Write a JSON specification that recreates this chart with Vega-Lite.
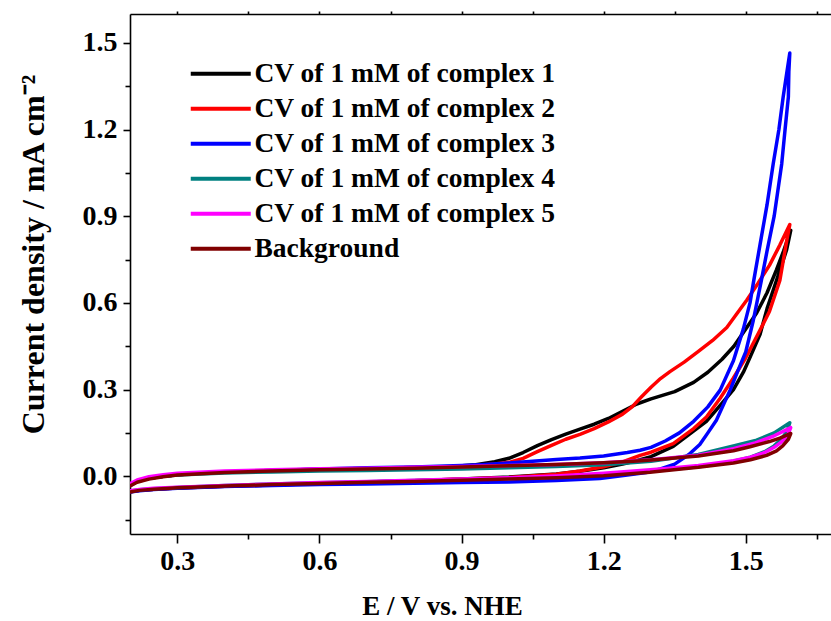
{
  "$schema": "https://vega.github.io/schema/vega-lite/v6.json",
  "width": 701,
  "height": 520,
  "autosize": {"type": "none"},
  "padding": {"left": 130, "top": 14, "right": 0, "bottom": 87},
  "background": "white",
  "config": {
    "view": {"stroke": null},
    "font": "Liberation Serif",
    "axis": {
      "grid": false,
      "domainColor": "black",
      "domainWidth": 1.6,
      "tickColor": "black",
      "tickWidth": 1.6,
      "labelFont": "Liberation Serif",
      "labelFontSize": 28,
      "labelFontWeight": "bold",
      "labelColor": "black",
      "titleFont": "Liberation Serif",
      "titleFontSize": 27,
      "titleFontWeight": "bold",
      "titleColor": "black"
    },
    "legend": {
      "orient": "none",
      "legendX": 77,
      "legendY": 46,
      "padding": 0,
      "title": null,
      "symbolType": "M-3,0H3",
      "symbolSize": 400,
      "symbolStrokeWidth": 4,
      "labelFont": "Liberation Serif",
      "labelFontSize": 27.5,
      "labelFontWeight": "bold",
      "labelColor": "black",
      "labelOffset": 20,
      "rowPadding": 6,
      "labelLimit": 0
    }
  },
  "datasets": {
    "c1": [
      {"i":0,"E":0.200,"j":-0.032},{"i":1,"E":0.215,"j":-0.018},{"i":2,"E":0.24,"j":-0.007},{"i":3,"E":0.27,"j":0.000},
      {"i":4,"E":0.30,"j":0.005},{"i":5,"E":0.35,"j":0.011},{"i":6,"E":0.40,"j":0.015},{"i":7,"E":0.50,"j":0.020},
      {"i":8,"E":0.60,"j":0.024},{"i":9,"E":0.70,"j":0.027},{"i":10,"E":0.80,"j":0.030},{"i":11,"E":0.88,"j":0.034},
      {"i":12,"E":0.93,"j":0.040},{"i":13,"E":0.97,"j":0.050},{"i":14,"E":1.00,"j":0.062},{"i":15,"E":1.03,"j":0.082},
      {"i":16,"E":1.06,"j":0.106},{"i":17,"E":1.09,"j":0.127},{"i":18,"E":1.12,"j":0.146},{"i":19,"E":1.15,"j":0.163},
      {"i":20,"E":1.18,"j":0.180},{"i":21,"E":1.21,"j":0.200},{"i":22,"E":1.24,"j":0.225},{"i":23,"E":1.27,"j":0.250},
      {"i":24,"E":1.30,"j":0.268},{"i":25,"E":1.35,"j":0.293},{"i":26,"E":1.39,"j":0.325},{"i":27,"E":1.42,"j":0.360},
      {"i":28,"E":1.45,"j":0.405},{"i":29,"E":1.475,"j":0.450},{"i":30,"E":1.50,"j":0.510},{"i":31,"E":1.523,"j":0.565},
      {"i":32,"E":1.545,"j":0.635},{"i":33,"E":1.565,"j":0.715},{"i":34,"E":1.58,"j":0.780},{"i":35,"E":1.595,"j":0.851},
      {"i":36,"E":1.586,"j":0.782},{"i":37,"E":1.565,"j":0.678},{"i":38,"E":1.545,"j":0.580},{"i":39,"E":1.53,"j":0.490},
      {"i":40,"E":1.51,"j":0.415},{"i":41,"E":1.495,"j":0.360},{"i":42,"E":1.474,"j":0.300},{"i":43,"E":1.446,"j":0.245},
      {"i":44,"E":1.417,"j":0.190},{"i":45,"E":1.389,"j":0.155},{"i":46,"E":1.347,"j":0.103},{"i":47,"E":1.30,"j":0.068},
      {"i":48,"E":1.277,"j":0.057},{"i":49,"E":1.24,"j":0.042},{"i":50,"E":1.20,"j":0.029},{"i":51,"E":1.15,"j":0.017},
      {"i":52,"E":1.10,"j":0.008},{"i":53,"E":1.00,"j":-0.003},{"i":54,"E":0.90,"j":-0.010},{"i":55,"E":0.80,"j":-0.016},
      {"i":56,"E":0.70,"j":-0.020},{"i":57,"E":0.60,"j":-0.025},{"i":58,"E":0.50,"j":-0.030},{"i":59,"E":0.40,"j":-0.035},
      {"i":60,"E":0.30,"j":-0.041},{"i":61,"E":0.25,"j":-0.045},{"i":62,"E":0.22,"j":-0.049},{"i":63,"E":0.20,"j":-0.054}
    ],
    "c2": [
      {"i":0,"E":0.200,"j":-0.032},{"i":1,"E":0.215,"j":-0.018},{"i":2,"E":0.24,"j":-0.007},{"i":3,"E":0.27,"j":0.000},
      {"i":4,"E":0.30,"j":0.005},{"i":5,"E":0.35,"j":0.011},{"i":6,"E":0.40,"j":0.015},{"i":7,"E":0.50,"j":0.020},
      {"i":8,"E":0.60,"j":0.024},{"i":9,"E":0.70,"j":0.027},{"i":10,"E":0.80,"j":0.030},{"i":11,"E":0.90,"j":0.034},
      {"i":12,"E":0.93,"j":0.037},{"i":13,"E":0.97,"j":0.042},{"i":14,"E":1.00,"j":0.048},{"i":15,"E":1.03,"j":0.062},
      {"i":16,"E":1.06,"j":0.085},{"i":17,"E":1.09,"j":0.107},{"i":18,"E":1.12,"j":0.128},{"i":19,"E":1.15,"j":0.145},
      {"i":20,"E":1.18,"j":0.165},{"i":21,"E":1.21,"j":0.188},{"i":22,"E":1.24,"j":0.215},{"i":23,"E":1.26,"j":0.240},
      {"i":24,"E":1.28,"j":0.275},{"i":25,"E":1.30,"j":0.308},{"i":26,"E":1.32,"j":0.338},{"i":27,"E":1.34,"j":0.362},
      {"i":28,"E":1.37,"j":0.395},{"i":29,"E":1.40,"j":0.432},{"i":30,"E":1.43,"j":0.470},{"i":31,"E":1.46,"j":0.515},
      {"i":32,"E":1.48,"j":0.560},{"i":33,"E":1.502,"j":0.609},{"i":34,"E":1.526,"j":0.668},{"i":35,"E":1.55,"j":0.730},
      {"i":36,"E":1.572,"j":0.800},{"i":37,"E":1.593,"j":0.871},{"i":38,"E":1.587,"j":0.820},{"i":39,"E":1.583,"j":0.782},
      {"i":40,"E":1.572,"j":0.678},{"i":41,"E":1.55,"j":0.570},{"i":42,"E":1.53,"j":0.505},{"i":43,"E":1.50,"j":0.410},
      {"i":44,"E":1.474,"j":0.340},{"i":45,"E":1.446,"j":0.270},{"i":46,"E":1.417,"j":0.205},{"i":47,"E":1.39,"j":0.165},
      {"i":48,"E":1.347,"j":0.113},{"i":49,"E":1.30,"j":0.083},{"i":50,"E":1.277,"j":0.072},{"i":51,"E":1.24,"j":0.050},
      {"i":52,"E":1.20,"j":0.033},{"i":53,"E":1.15,"j":0.018},{"i":54,"E":1.10,"j":0.007},{"i":55,"E":1.00,"j":-0.004},
      {"i":56,"E":0.90,"j":-0.010},{"i":57,"E":0.80,"j":-0.016},{"i":58,"E":0.70,"j":-0.020},{"i":59,"E":0.60,"j":-0.025},
      {"i":60,"E":0.50,"j":-0.030},{"i":61,"E":0.40,"j":-0.035},{"i":62,"E":0.30,"j":-0.041},{"i":63,"E":0.25,"j":-0.045},
      {"i":64,"E":0.22,"j":-0.049},{"i":65,"E":0.20,"j":-0.054}
    ],
    "c3": [
      {"i":0,"E":0.200,"j":-0.032},{"i":1,"E":0.215,"j":-0.018},{"i":2,"E":0.24,"j":-0.007},{"i":3,"E":0.27,"j":0.000},
      {"i":4,"E":0.30,"j":0.005},{"i":5,"E":0.35,"j":0.011},{"i":6,"E":0.40,"j":0.015},{"i":7,"E":0.50,"j":0.020},
      {"i":8,"E":0.60,"j":0.025},{"i":9,"E":0.70,"j":0.029},{"i":10,"E":0.80,"j":0.032},{"i":11,"E":0.90,"j":0.037},
      {"i":12,"E":0.95,"j":0.041},{"i":13,"E":1.00,"j":0.046},{"i":14,"E":1.05,"j":0.052},{"i":15,"E":1.10,"j":0.058},
      {"i":16,"E":1.15,"j":0.063},{"i":17,"E":1.20,"j":0.070},{"i":18,"E":1.25,"j":0.082},{"i":19,"E":1.277,"j":0.090},
      {"i":20,"E":1.30,"j":0.100},{"i":21,"E":1.33,"j":0.122},{"i":22,"E":1.36,"j":0.150},{"i":23,"E":1.39,"j":0.190},
      {"i":24,"E":1.42,"j":0.240},{"i":25,"E":1.446,"j":0.298},{"i":26,"E":1.474,"j":0.400},{"i":27,"E":1.495,"j":0.510},
      {"i":28,"E":1.509,"j":0.600},{"i":29,"E":1.517,"j":0.678},{"i":30,"E":1.53,"j":0.800},{"i":31,"E":1.545,"j":0.940},
      {"i":32,"E":1.558,"j":1.082},{"i":33,"E":1.57,"j":1.200},{"i":34,"E":1.579,"j":1.313},{"i":35,"E":1.587,"j":1.400},
      {"i":36,"E":1.593,"j":1.465},{"i":37,"E":1.591,"j":1.400},{"i":38,"E":1.59,"j":1.313},{"i":39,"E":1.583,"j":1.200},
      {"i":40,"E":1.576,"j":1.082},{"i":41,"E":1.56,"j":0.900},{"i":42,"E":1.545,"j":0.780},{"i":43,"E":1.533,"j":0.678},
      {"i":44,"E":1.516,"j":0.540},{"i":45,"E":1.50,"j":0.430},{"i":46,"E":1.484,"j":0.367},{"i":47,"E":1.467,"j":0.298},
      {"i":48,"E":1.438,"j":0.194},{"i":49,"E":1.42,"j":0.150},{"i":50,"E":1.403,"j":0.110},{"i":51,"E":1.38,"j":0.075},
      {"i":52,"E":1.35,"j":0.042},{"i":53,"E":1.32,"j":0.025},{"i":54,"E":1.29,"j":0.013},{"i":55,"E":1.25,"j":0.004},
      {"i":56,"E":1.192,"j":-0.008},{"i":57,"E":1.10,"j":-0.015},{"i":58,"E":1.00,"j":-0.020},{"i":59,"E":0.90,"j":-0.022},
      {"i":60,"E":0.80,"j":-0.024},{"i":61,"E":0.70,"j":-0.027},{"i":62,"E":0.60,"j":-0.029},{"i":63,"E":0.50,"j":-0.032},
      {"i":64,"E":0.40,"j":-0.036},{"i":65,"E":0.30,"j":-0.042},{"i":66,"E":0.25,"j":-0.046},{"i":67,"E":0.22,"j":-0.050},
      {"i":68,"E":0.20,"j":-0.055}
    ],
    "c4": [
      {"i":0,"E":0.200,"j":-0.028},{"i":1,"E":0.215,"j":-0.016},{"i":2,"E":0.24,"j":-0.006},{"i":3,"E":0.27,"j":0.000},
      {"i":4,"E":0.30,"j":0.004},{"i":5,"E":0.40,"j":0.011},{"i":6,"E":0.50,"j":0.015},{"i":7,"E":0.60,"j":0.018},
      {"i":8,"E":0.70,"j":0.020},{"i":9,"E":0.80,"j":0.022},{"i":10,"E":0.90,"j":0.025},{"i":11,"E":1.00,"j":0.029},
      {"i":12,"E":1.10,"j":0.034},{"i":13,"E":1.20,"j":0.040},{"i":14,"E":1.30,"j":0.052},{"i":15,"E":1.40,"j":0.075},
      {"i":16,"E":1.474,"j":0.105},{"i":17,"E":1.523,"j":0.125},{"i":18,"E":1.56,"j":0.150},{"i":19,"E":1.593,"j":0.185},
      {"i":20,"E":1.587,"j":0.155},{"i":21,"E":1.575,"j":0.128},{"i":22,"E":1.56,"j":0.105},{"i":23,"E":1.54,"j":0.085},
      {"i":24,"E":1.51,"j":0.066},{"i":25,"E":1.474,"j":0.052},{"i":26,"E":1.43,"j":0.040},{"i":27,"E":1.40,"j":0.033},
      {"i":28,"E":1.333,"j":0.022},{"i":29,"E":1.25,"j":0.012},{"i":30,"E":1.20,"j":0.006},{"i":31,"E":1.10,"j":-0.001},
      {"i":32,"E":1.00,"j":-0.007},{"i":33,"E":0.90,"j":-0.011},{"i":34,"E":0.80,"j":-0.015},{"i":35,"E":0.70,"j":-0.019},
      {"i":36,"E":0.60,"j":-0.023},{"i":37,"E":0.50,"j":-0.027},{"i":38,"E":0.40,"j":-0.032},{"i":39,"E":0.30,"j":-0.039},
      {"i":40,"E":0.25,"j":-0.043},{"i":41,"E":0.22,"j":-0.047},{"i":42,"E":0.20,"j":-0.051}
    ],
    "c5": [
      {"i":0,"E":0.200,"j":-0.026},{"i":1,"E":0.215,"j":-0.013},{"i":2,"E":0.24,"j":-0.002},{"i":3,"E":0.27,"j":0.005},
      {"i":4,"E":0.30,"j":0.010},{"i":5,"E":0.40,"j":0.018},{"i":6,"E":0.50,"j":0.022},{"i":7,"E":0.60,"j":0.026},
      {"i":8,"E":0.70,"j":0.028},{"i":9,"E":0.80,"j":0.031},{"i":10,"E":0.90,"j":0.034},{"i":11,"E":1.00,"j":0.037},
      {"i":12,"E":1.10,"j":0.041},{"i":13,"E":1.20,"j":0.047},{"i":14,"E":1.30,"j":0.057},{"i":15,"E":1.40,"j":0.073},
      {"i":16,"E":1.474,"j":0.095},{"i":17,"E":1.52,"j":0.115},{"i":18,"E":1.56,"j":0.140},{"i":19,"E":1.595,"j":0.168},
      {"i":20,"E":1.588,"j":0.140},{"i":21,"E":1.575,"j":0.118},{"i":22,"E":1.56,"j":0.100},{"i":23,"E":1.54,"j":0.082},
      {"i":24,"E":1.51,"j":0.066},{"i":25,"E":1.474,"j":0.054},{"i":26,"E":1.40,"j":0.037},{"i":27,"E":1.333,"j":0.027},
      {"i":28,"E":1.25,"j":0.016},{"i":29,"E":1.20,"j":0.010},{"i":30,"E":1.10,"j":0.001},{"i":31,"E":1.00,"j":-0.005},
      {"i":32,"E":0.90,"j":-0.010},{"i":33,"E":0.80,"j":-0.014},{"i":34,"E":0.70,"j":-0.018},{"i":35,"E":0.60,"j":-0.022},
      {"i":36,"E":0.50,"j":-0.027},{"i":37,"E":0.40,"j":-0.032},{"i":38,"E":0.30,"j":-0.038},{"i":39,"E":0.25,"j":-0.042},
      {"i":40,"E":0.22,"j":-0.046},{"i":41,"E":0.20,"j":-0.050}
    ],
    "bg": [
      {"i":0,"E":0.200,"j":-0.034},{"i":1,"E":0.215,"j":-0.021},{"i":2,"E":0.24,"j":-0.010},{"i":3,"E":0.27,"j":-0.002},
      {"i":4,"E":0.30,"j":0.004},{"i":5,"E":0.40,"j":0.013},{"i":6,"E":0.50,"j":0.018},{"i":7,"E":0.60,"j":0.022},
      {"i":8,"E":0.70,"j":0.025},{"i":9,"E":0.80,"j":0.028},{"i":10,"E":0.90,"j":0.032},{"i":11,"E":1.00,"j":0.036},
      {"i":12,"E":1.10,"j":0.041},{"i":13,"E":1.20,"j":0.047},{"i":14,"E":1.262,"j":0.052},{"i":15,"E":1.30,"j":0.056},
      {"i":16,"E":1.40,"j":0.070},{"i":17,"E":1.474,"j":0.088},{"i":18,"E":1.509,"j":0.102},{"i":19,"E":1.55,"j":0.120},
      {"i":20,"E":1.572,"j":0.132},{"i":21,"E":1.595,"j":0.148},{"i":22,"E":1.590,"j":0.128},{"i":23,"E":1.578,"j":0.105},
      {"i":24,"E":1.565,"j":0.088},{"i":25,"E":1.544,"j":0.072},{"i":26,"E":1.51,"j":0.057},{"i":27,"E":1.474,"j":0.046},
      {"i":28,"E":1.40,"j":0.031},{"i":29,"E":1.333,"j":0.020},{"i":30,"E":1.298,"j":0.014},{"i":31,"E":1.20,"j":0.002},
      {"i":32,"E":1.10,"j":-0.005},{"i":33,"E":1.00,"j":-0.010},{"i":34,"E":0.90,"j":-0.014},{"i":35,"E":0.80,"j":-0.018},
      {"i":36,"E":0.70,"j":-0.021},{"i":37,"E":0.60,"j":-0.025},{"i":38,"E":0.50,"j":-0.029},{"i":39,"E":0.40,"j":-0.034},
      {"i":40,"E":0.30,"j":-0.040},{"i":41,"E":0.25,"j":-0.045},{"i":42,"E":0.22,"j":-0.049},{"i":43,"E":0.20,"j":-0.055}
    ]
  },
  "resolve": {"axis": {"x": "independent"}},
  "layer": [
    {
      "data": {"name": "c1"},
      "mark": {"type": "line", "strokeWidth": 3.5, "strokeJoin": "round", "strokeCap": "round", "clip": true},
      "encoding": {
        "x": {
          "field": "E", "type": "quantitative",
          "scale": {"domain": [0.2, 1.68], "nice": false, "zero": false},
          "axis": {
            "orient": "bottom",
            "values": [0.3, 0.45, 0.6, 0.75, 0.9, 1.05, 1.2, 1.35, 1.5, 1.65],
            "labelExpr": "round(datum.value * 100) % 30 == 0 ? format(datum.value, '.1f') : ''",
            "tickSize": {"condition": {"test": "round(datum.value * 100) % 30 == 0", "value": 9}, "value": 5},
            "labelPadding": 4,
            "title": "E / V vs. NHE",
            "titleX": 312,
            "titleY": 80,
            "titleAlign": "center",
            "titleBaseline": "alphabetic"
          }
        },
        "y": {
          "field": "j", "type": "quantitative",
          "scale": {"domain": [-0.2, 1.6], "nice": false, "zero": false},
          "axis": {
            "orient": "left",
            "values": [-0.15, 0, 0.15, 0.3, 0.45, 0.6, 0.75, 0.9, 1.05, 1.2, 1.35, 1.5],
            "labelExpr": "round(datum.value * 100) % 30 == 0 ? format(datum.value, '.1f') : ''",
            "tickSize": {"condition": {"test": "round(datum.value * 100) % 30 == 0", "value": 7}, "value": 5},
            "labelPadding": 6,
            "title": "Current density / mA cm⁻²",
            "titleFontSize": 32,
            "titleAngle": -90,
            "titleX": -87,
            "titleY": 240,
            "titleAlign": "center",
            "titleBaseline": "alphabetic"
          }
        },
        "order": {"field": "i", "type": "quantitative"},
        "color": {
          "datum": "CV of 1 mM of complex 1",
          "type": "nominal",
          "scale": {
            "domain": ["CV of 1 mM of complex 1", "CV of 1 mM of complex 2", "CV of 1 mM of complex 3", "CV of 1 mM of complex 4", "CV of 1 mM of complex 5", "Background"],
            "range": ["#000000", "#ff0000", "#0000ff", "#008080", "#ff00ff", "#800000"]
          }
        }
      }
    },
    {
      "data": {"name": "c2"},
      "mark": {"type": "line", "strokeWidth": 3.5, "strokeJoin": "round", "strokeCap": "round", "clip": true},
      "encoding": {
        "x": {"field": "E", "type": "quantitative", "axis": null},
        "y": {"field": "j", "type": "quantitative"},
        "order": {"field": "i", "type": "quantitative"},
        "color": {"datum": "CV of 1 mM of complex 2", "type": "nominal"}
      }
    },
    {
      "data": {"name": "c3"},
      "mark": {"type": "line", "strokeWidth": 3.5, "strokeJoin": "round", "strokeCap": "round", "clip": true},
      "encoding": {
        "x": {"field": "E", "type": "quantitative", "axis": null},
        "y": {"field": "j", "type": "quantitative"},
        "order": {"field": "i", "type": "quantitative"},
        "color": {"datum": "CV of 1 mM of complex 3", "type": "nominal"}
      }
    },
    {
      "data": {"name": "c4"},
      "mark": {"type": "line", "strokeWidth": 3.5, "strokeJoin": "round", "strokeCap": "round", "clip": true},
      "encoding": {
        "x": {"field": "E", "type": "quantitative", "axis": null},
        "y": {"field": "j", "type": "quantitative"},
        "order": {"field": "i", "type": "quantitative"},
        "color": {"datum": "CV of 1 mM of complex 4", "type": "nominal"}
      }
    },
    {
      "data": {"name": "c5"},
      "mark": {"type": "line", "strokeWidth": 3.5, "strokeJoin": "round", "strokeCap": "round", "clip": true},
      "encoding": {
        "x": {"field": "E", "type": "quantitative", "axis": null},
        "y": {"field": "j", "type": "quantitative"},
        "order": {"field": "i", "type": "quantitative"},
        "color": {"datum": "CV of 1 mM of complex 5", "type": "nominal"}
      }
    },
    {
      "data": {"name": "bg"},
      "mark": {"type": "line", "strokeWidth": 3.5, "strokeJoin": "round", "strokeCap": "round", "clip": true},
      "encoding": {
        "x": {
          "field": "E", "type": "quantitative",
          "axis": {
            "orient": "top",
            "values": [0.3, 0.45, 0.6, 0.75, 0.9, 1.05, 1.2, 1.35, 1.5, 1.65],
            "labels": false,
            "tickSize": 3,
            "title": null
          }
        },
        "y": {"field": "j", "type": "quantitative"},
        "order": {"field": "i", "type": "quantitative"},
        "color": {"datum": "Background", "type": "nominal"}
      }
    }
  ]
}
